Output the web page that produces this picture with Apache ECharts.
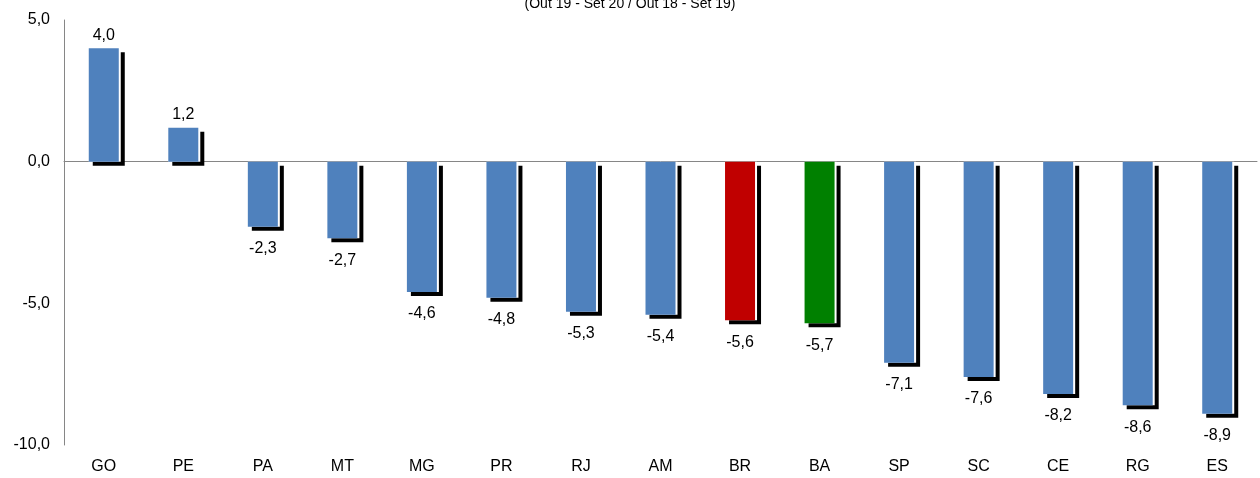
<!DOCTYPE html>
<html>
<head>
<meta charset="utf-8">
<script src="https://cdn.jsdelivr.net/npm/echarts@6/dist/echarts.min.js"></script>
<style>
  html, body { margin: 0; padding: 0; background: #fff; }
  #chart { width: 1260px; height: 478px; }
</style>
</head>
<body>
<div id="chart"></div>
<script>
// Variação por UF (Out 19 - Set 20 / Out 18 - Set 19)
const ufs = ['GO', 'PE', 'PA', 'MT', 'MG', 'PR', 'RJ', 'AM', 'BR', 'BA', 'SP', 'SC', 'CE', 'RG', 'ES'];
const variacao = [4.0, 1.2, -2.3, -2.7, -4.6, -4.8, -5.3, -5.4, -5.6, -5.7, -7.1, -7.6, -8.2, -8.6, -8.9];
const subtitulo = '(Out 19 - Set 20 / Out 18 - Set 19)';

const corPadrao = '#4f81bd';
const coresDestaque = { BR: '#c00000', BA: '#008000' };
const fonte = 'Liberation Sans, Arial, sans-serif';

const fmt = v => v.toFixed(1).replace('.', ',');

// colored bars with their value labels
const dados = variacao.map((v, i) => ({
  value: v,
  itemStyle: { color: coresDestaque[ufs[i]] || corPadrao },
  label: v >= 0
    ? { position: 'top', distance: 5 }
    : { position: 'bottom', distance: 14 }
}));

const chart = echarts.init(document.getElementById('chart'), null, { renderer: 'canvas' });
chart.setOption({
  animation: false,
  backgroundColor: '#fff',
  title: {
    text: subtitulo,
    left: 'center',
    top: -8,
    textStyle: { fontFamily: fonte, fontSize: 14, fontWeight: 'normal', color: '#000' }
  },
  grid: { left: 64, right: 3, top: 20, bottom: 33, containLabel: false },
  xAxis: [
    {
      type: 'category',
      data: ufs,
      axisLine: { onZero: true, lineStyle: { color: '#868686', width: 1 } },
      axisTick: { show: false },
      axisLabel: { show: false }
    },
    {
      type: 'category',
      data: ufs,
      position: 'bottom',
      axisLine: { show: false, onZero: false },
      axisTick: { show: false },
      axisLabel: { margin: 14, fontFamily: fonte, fontSize: 16, color: '#000' }
    }
  ],
  yAxis: {
    type: 'value',
    min: -10,
    max: 5,
    interval: 5,
    axisLine: { show: true, lineStyle: { color: '#868686', width: 1 } },
    axisTick: { show: false },
    splitLine: { show: false },
    axisLabel: {
      margin: 14,
      fontFamily: fonte,
      fontSize: 16,
      color: '#000',
      formatter: v => fmt(v)
    }
  },
  series: [
    {
      // white backing bar casting the hard black drop shadow
      type: 'bar',
      xAxisIndex: 0,
      data: variacao,
      barWidth: 32,
      z: 1,
      silent: true,
      itemStyle: {
        color: '#fff',
        shadowColor: '#000',
        shadowOffsetX: 4,
        shadowOffsetY: 4,
        shadowBlur: 0
      }
    },
    {
      type: 'bar',
      xAxisIndex: 0,
      data: dados,
      barWidth: 30,
      barGap: '-100%',
      z: 2,
      label: {
        show: true,
        fontFamily: fonte,
        fontSize: 16,
        color: '#000',
        formatter: p => fmt(p.value)
      }
    }
  ]
});
</script>
</body>
</html>
